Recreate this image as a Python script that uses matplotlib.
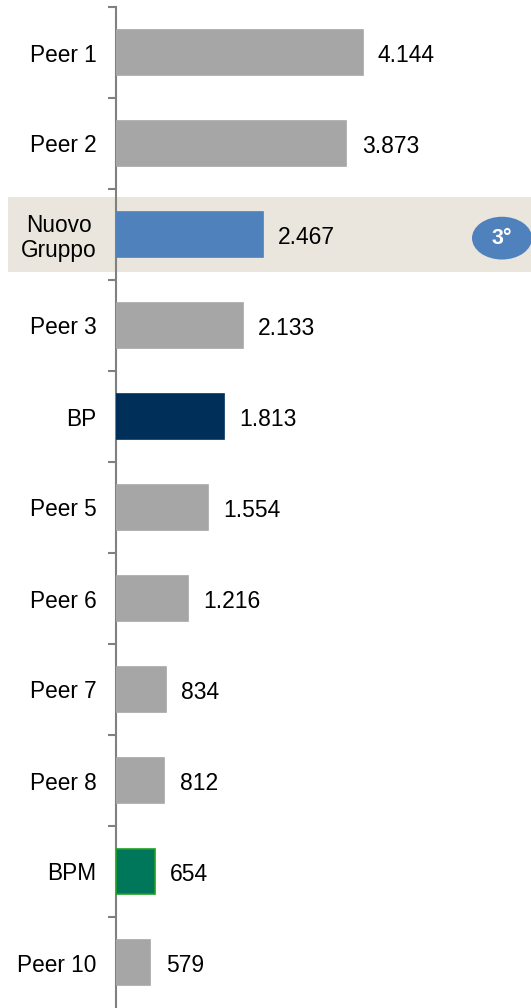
import numpy as np
import matplotlib.pyplot as plt
from matplotlib.patches import Rectangle, Ellipse
import matplotlib.transforms as mtransforms

plt.rcParams['font.family'] = ['Liberation Sans', 'DejaVu Sans']

# dati
categories = ["Peer 1", "Peer 2", "Nuovo\nGruppo", "Peer 3", "BP", "Peer 5",
              "Peer 6", "Peer 7", "Peer 8", "BPM", "Peer 10"]
values = [4144, 3873, 2467, 2133, 1813, 1554, 1216, 834, 812, 654, 579]
labels = ["4.144", "3.873", "2.467", "2.133", "1.813", "1.554", "1.216",
          "834", "812", "654", "579"]
rank_text = "3°"

GREY = "#A6A6A6"
colors = [GREY] * len(categories)
edges = [GREY] * len(categories)
colors[2] = "#4F81BD"; edges[2] = "#4F81BD"
colors[4] = "#00305A"; edges[4] = "#00305A"
colors[9] = "#00775A"; edges[9] = "#1FA01F"

fig = plt.figure(figsize=(5.31, 10.08), dpi=100)
ax = fig.add_axes([116 / 531, 0.0, 1 - 116 / 531, 1001 / 1008])

y = np.arange(len(categories))
ax.barh(y, values, height=0.5, color=colors, edgecolor=edges, linewidth=1.2, zorder=3)

for yi, v, lab in zip(y, values, labels):
    ax.annotate(lab, (v, yi), xytext=(11, -2), textcoords="offset points",
                va="center", ha="left", fontsize=16.5, zorder=4)

ax.set_xlim(0, 6975)
ax.set_ylim(len(categories) - 0.5, -0.5)

# banda evidenziata per Nuovo Gruppo
tr = mtransforms.blended_transform_factory(ax.transAxes, ax.transData)
band = Rectangle((-108 / 415, 2 - 0.41), 1 + 108 / 415, 0.82, transform=tr,
                 facecolor="#EAE6DD", edgecolor="none", clip_on=False, zorder=0)
ax.add_patch(band)
ell = Ellipse((386 / 415, 2.04), 60 / 415, 0.47, transform=tr,
              facecolor="#4F81BD", edgecolor="none", clip_on=False, zorder=5)
ax.add_patch(ell)
ax.text(386 / 415, 2.04, rank_text, transform=tr, ha="center", va="center",
        color="white", fontsize=15.5, fontweight="bold", zorder=6)

# assi
for s in ["top", "right", "bottom"]:
    ax.spines[s].set_visible(False)
ax.spines["left"].set_color("#808080")
ax.spines["left"].set_linewidth(1.5)
ax.set_xticks([])
ax.set_yticks(y)
ax.set_yticklabels(categories, fontsize=16.3, multialignment="center",
                   linespacing=1.1)
ax.tick_params(axis="y", which="major", length=0, pad=14)
ax.set_yticks(np.arange(-0.5, len(categories) - 0.5, 1), minor=True)
ax.tick_params(axis="y", which="minor", length=6, width=1.5, color="#808080")
ax.patch.set_alpha(0)

fig.savefig("out.png", dpi=100)
